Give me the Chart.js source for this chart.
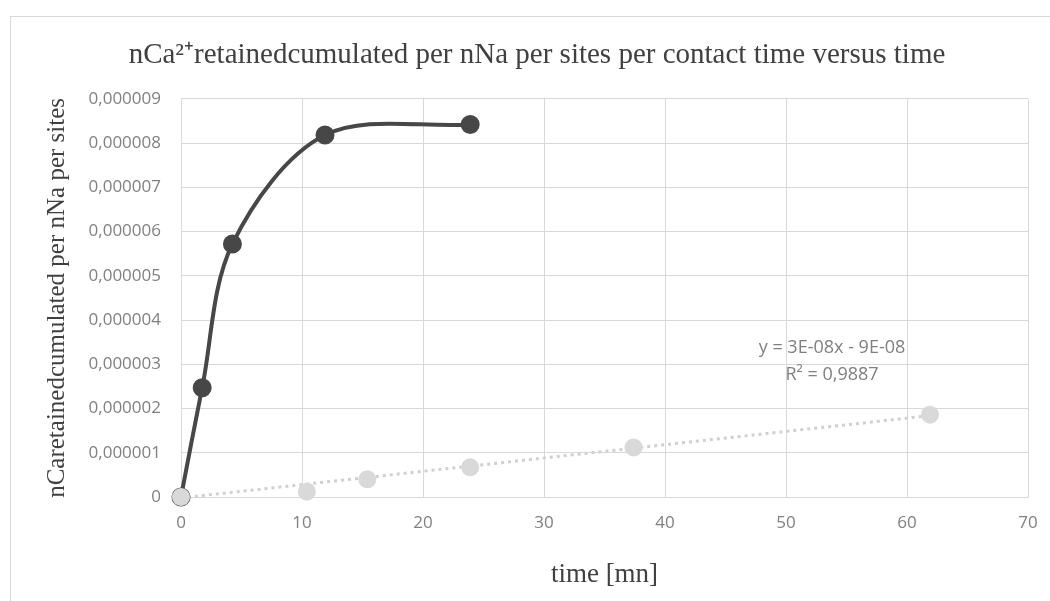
<!DOCTYPE html>
<html>
<head>
<meta charset="utf-8">
<script src="https://cdn.jsdelivr.net/npm/chart.js@4/dist/chart.umd.min.js"></script>
<style>
  html, body { margin: 0; padding: 0; background: #fff; overflow: hidden; }
  #wrap { position: relative; width: 1050px; height: 601px; }
  #frame { position: absolute; left: 10px; top: 16px; width: 1100px; height: 700px; border: 1px solid #d9d9d9; }
  #chart { position: absolute; left: 0; top: 0; }
</style>
</head>
<body>
<div id="wrap">
  <div id="frame"></div>
  <canvas id="chart" width="1050" height="601"></canvas>
</div>
<script>
// dark series (cumulated retained)
const darkTime = [0, 1.75, 4.25, 11.9, 23.9];
const darkValues = [0, 2.47e-6, 5.72e-6, 8.18e-6, 8.42e-6];

// light series
const lightTime = [0, 10.4, 15.4, 23.9, 37.4, 61.9];
const lightValues = [0, 0.12e-6, 0.4e-6, 0.67e-6, 1.12e-6, 1.86e-6];

// linear trendline ends (y = 3E-08x - 9E-08)
const trendTime = [0, 61.9];
const trendValues = [-0.02e-6, 1.84e-6];

// trendline label
const trendLabel = ['y = 3E-08x - 9E-08', 'R\u00b2 = 0,9887'];
const trendLabelX = 53.8;
const trendLabelY = [3.36e-6, 2.75e-6];

const xTicks = [0, 10, 20, 30, 40, 50, 60, 70];
const yMax = 9e-6;
const yStep = 1e-6;

const serif = '"Liberation Serif", "Times New Roman", serif';
const toPoints = (xs, ys) => xs.map((x, i) => ({ x: x, y: ys[i] }));

const trendLabelPlugin = {
  id: 'trendLabel',
  afterDatasetsDraw(chart) {
    const ctx = chart.ctx;
    const xs = chart.scales.x, ys = chart.scales.y;
    ctx.save();
    ctx.font = '18px "Open Sans"';
    ctx.fillStyle = '#808080';
    ctx.textAlign = 'center';
    ctx.textBaseline = 'middle';
    trendLabel.forEach((t, i) => {
      ctx.fillText(t, xs.getPixelForValue(trendLabelX), ys.getPixelForValue(trendLabelY[i]));
    });
    ctx.restore();
  }
};

const ctx = document.getElementById('chart').getContext('2d');
new Chart(ctx, {
  type: 'scatter',
  data: {
    datasets: [
      {
        label: 'trend',
        data: toPoints(trendTime, trendValues),
        showLine: true,
        clip: false,
        borderColor: '#d0d0d0',
        borderWidth: 3,
        borderDash: [3, 4],
        pointRadius: 0,
        order: 3
      },
      {
        label: 'dark',
        data: toPoints(darkTime, darkValues),
        showLine: true,
        clip: false,
        tension: 0.33,
        borderColor: '#474747',
        borderWidth: 4,
        pointRadius: 7.5,
        pointBackgroundColor: '#474747',
        pointBorderColor: '#474747',
        order: 2
      },
      {
        label: 'light',
        data: toPoints(lightTime, lightValues),
        showLine: false,
        clip: false,
        pointRadius: 9,
        pointBorderWidth: 0,
        pointBackgroundColor: '#d9d9d9',
        pointBorderColor: '#d9d9d9',
        order: 1
      }
    ]
  },
  options: {
    responsive: false,
    animation: false,
    layout: { padding: { left: 46, right: 22, top: 0, bottom: 0 } },
    plugins: {
      legend: { display: false },
      tooltip: { enabled: false },
      title: {
        display: true,
        text: 'nCa\u00b2\u207aretainedcumulated per nNa per sites per contact time versus time',
        color: '#404040',
        font: { family: serif, size: 29, weight: 'normal' },
        padding: { top: 38, bottom: 26 }
      }
    },
    scales: {
      x: {
        type: 'linear',
        min: 0,
        max: 70,
        afterBuildTicks: (s) => { s.ticks = xTicks.map(v => ({ value: v })); },
        afterFit: (s) => { s.height = 104; s.paddingRight = 0; s.paddingLeft = 0; },
        grid: { color: '#d9d9d9', drawTicks: false },
        border: { color: '#d9d9d9' },
        ticks: {
          color: '#808080',
          padding: 16,
          font: { family: '"Open Sans"', size: 17 }
        },
        title: {
          display: true,
          text: 'time [mn]',
          color: '#404040',
          font: { family: serif, size: 27, weight: 'normal' },
          padding: { top: 0, bottom: 10 }
        }
      },
      y: {
        type: 'linear',
        min: 0,
        max: yMax,
        afterFit: (s) => { s.width = 135; },
        grid: { color: '#d9d9d9', drawTicks: false },
        border: { color: '#d9d9d9' },
        ticks: {
          stepSize: yStep,
          color: '#808080',
          padding: 20,
          font: { family: '"Open Sans"', size: 17 },
          callback: (v) => v === 0 ? '0' : v.toFixed(6).replace('.', ',')
        },
        title: {
          display: true,
          text: 'nCaretainedcumulated per nNa per sites',
          color: '#404040',
          font: { family: serif, size: 25, weight: 'normal', lineHeight: 0.9 },
          padding: { top: 0, bottom: 0 }
        }
      }
    }
  },
  plugins: [trendLabelPlugin]
});
</script>
</body>
</html>
